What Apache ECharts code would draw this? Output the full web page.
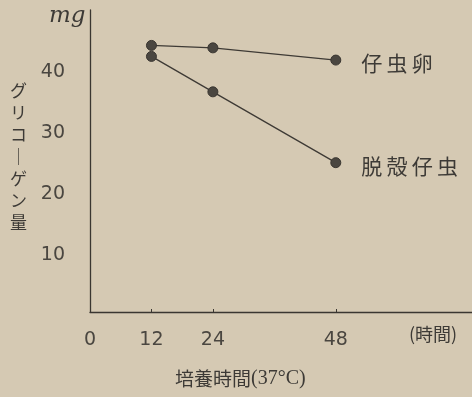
<!DOCTYPE html>
<html><head><meta charset="utf-8">
<script src="https://cdn.jsdelivr.net/npm/echarts@6/dist/echarts.min.js"></script>
<style>html,body{margin:0;padding:0;background:#d5c9b3;}#c{width:472px;height:397px;}</style>
</head><body><div id="c"></div>
<script>
const hours = [12, 24, 48];
const eggValues = [44.3, 43.9, 41.9];      // 仔虫卵
const larvaValues = [42.5, 36.7, 25.1];    // 脱殻仔虫
const seriesNames = ['仔\u2009虫\u2009卵', '脱\u2009殻\u2009仔\u2009虫'];
const xTickLabels = [0, 12, 24, 48];
const yTickLabels = [10, 20, 30, 40];

const txt = '#3d3a36';
const font = '"Noto Sans CJK JP", "Noto Sans", sans-serif';

function mk(vals, name) {
  return {
    type: 'line', name: name,
    data: hours.map((h, i) => ({
      value: [h, vals[i]],
      label: i === hours.length - 1 ? {
        show: true, position: 'right', distance: 20, offset: [0, 3],
        formatter: name, fontSize: 21, color: txt, fontFamily: font
      } : { show: false }
    })),
    symbol: 'circle', symbolSize: 10,
    itemStyle: { color: '#4a4640', borderColor: '#3a3631', borderWidth: 1 },
    lineStyle: { color: '#3e3a35', width: 1.3 },
    animation: false
  };
}

const chart = echarts.init(document.getElementById('c'));
chart.setOption({
  backgroundColor: '#d5c9b3',
  animation: false,
  grid: { left: 90, right: 0, top: 10, bottom: 85 },
  xAxis: {
    type: 'value', min: 0, max: 74.6,
    axisLine: { show: true, lineStyle: { color: '#3a3631', width: 1.3 } },
    axisTick: { show: true, inside: true, length: 3, customValues: [12, 24, 48], lineStyle: { color: '#3a3631' } },
    axisLabel: { customValues: xTickLabels, margin: 19, fontSize: 19, color: '#4a4640', fontFamily: '"DejaVu Sans", sans-serif' },
    splitLine: { show: false }
  },
  yAxis: {
    type: 'value', min: 0.65, max: 50.1,
    axisLine: { show: true, lineStyle: { color: '#3a3631', width: 1.3 } },
    axisTick: { show: false },
    axisLabel: { customValues: yTickLabels, margin: 25, fontSize: 19, color: '#4a4640', fontFamily: '"DejaVu Sans", sans-serif' },
    splitLine: { show: false }
  },
  graphic: [
    { type: 'text', left: 49, top: 5, style: { text: 'mg', fontSize: 23, fontStyle: 'italic', fontFamily: '"DejaVu Serif", serif', fill: txt } },
    { type: 'text', left: 10, top: 80, style: { text: 'グ\nリ\nコ\n｜\nゲ\nン\n量', fontSize: 17, lineHeight: 22, fontFamily: font, fill: txt, align: 'center' } },
    { type: 'text', left: 409, top: 325, style: { text: '(時間)', fontSize: 18, fontFamily: font, fill: txt } },
    { type: 'text', left: 175, top: 369, style: {
        text: '{a|培養時間}{b|(37°C)}',
        rich: {
          a: { fontSize: 19, fontFamily: font, fill: txt, color: txt },
          b: { fontSize: 20, fontFamily: '"Liberation Serif", "DejaVu Serif", serif', fill: txt, color: txt }
        } } }
  ],
  series: [mk(eggValues, seriesNames[0]), mk(larvaValues, seriesNames[1])]
});
</script></body></html>
